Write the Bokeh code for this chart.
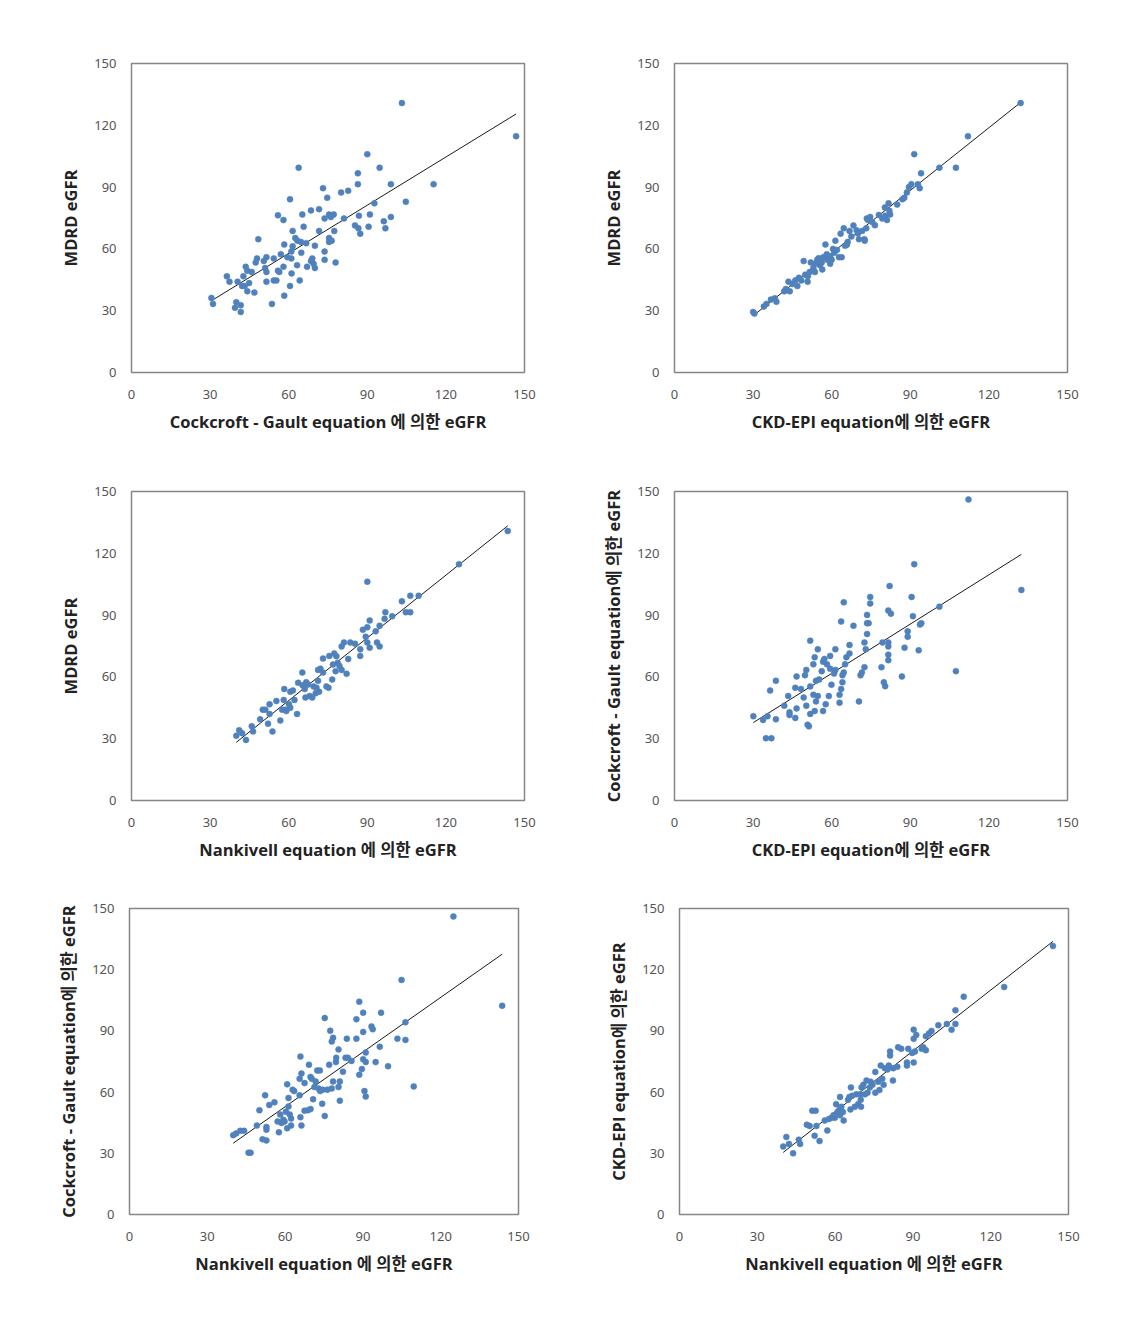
import numpy as np
from bokeh.plotting import figure
from bokeh.layouts import column, row
from bokeh.models import Range1d, FixedTicker
from bokeh.embed import file_html
from bokeh.resources import INLINE

TICKS = [0, 30, 60, 90, 120, 150]

# Panel 1: Cockcroft-Gault (x) vs MDRD (y)
p1_x = [30.5,31.1,103.2,146.8,90.0,63.8,86.4,94.7,86.4,99.0,
        115.3,73.1,80.0,82.7,74.7,60.5,92.7,104.7,71.6,68.5,
        65.2,55.9,58.0,75.4,77.2,76.1,73.7,81.1,86.8,91.0,
        96.3,99.0,85.3,90.5,96.9,86.6,87.3,65.7,61.5,71.6,
        77.4,48.4,62.5,63.3,64.7,66.7,58.3,61.5,70.0,75.4,
        76.4,75.4,61.0,64.8,73.7,57.0,59.5,61.0,51.5,47.9,
        47.4,50.5,54.3,69.0,68.5,69.5,73.7,77.9,63.2,67.0,
        70.0,58.0,51.0,43.6,44.2,45.9,51.5,55.9,56.4,61.1,
        42.7,36.4,37.4,40.5,44.9,42.2,43.2,51.5,54.3,55.3,
        64.2,60.5,44.2,46.9,58.3,53.6,40.0,39.5,41.7,41.7]
p1_y = [36.2,33.3,130.8,114.7,106.0,99.4,96.7,99.4,91.4,91.4,
        91.4,89.5,87.4,88.2,84.8,84.1,82.1,82.9,79.3,78.7,
        76.7,76.3,74.0,76.7,76.7,75.5,74.8,74.8,76.1,76.7,
        73.4,75.5,71.4,70.8,70.0,70.0,67.4,70.8,68.7,68.7,
        68.7,64.7,65.3,64.0,63.4,62.8,62.1,61.3,61.5,65.3,
        64.0,63.4,58.7,58.1,58.7,57.4,56.0,55.4,56.0,55.4,
        53.4,54.1,55.4,55.4,54.1,52.8,54.7,53.4,52.1,51.3,
        50.7,51.3,50.7,51.3,49.4,48.8,48.8,49.4,48.8,48.1,
        46.7,46.7,44.1,44.1,43.4,42.0,42.0,44.1,44.7,44.7,
        44.7,42.0,39.4,38.8,37.3,33.3,34.1,31.4,32.7,29.4]

# Panel 2: CKD-EPI (x) vs MDRD (y)
p2_x = [30.0,30.5,34.1,35.1,36.8,38.3,38.9,41.9,44.0,43.5,
        46.1,46.9,48.4,50.8,49.9,50.9,51.6,52.0,49.3,53.0,
        53.6,54.5,55.5,56.8,56.4,57.6,58.3,59.4,60.0,61.0,
        62.8,63.8,61.4,63.4,64.6,65.1,66.1,66.8,68.3,70.4,
        71.6,72.5,73.2,72.6,73.4,74.7,73.9,79.3,80.4,81.7,
        82.3,81.1,80.3,87.0,87.7,88.7,90.4,93.6,92.9,91.5,
        94.1,101.1,107.4,112.0,132.1,53.6,58.1,56.2,65.8,59.4,
        45.0,47.5,55.0,60.5,67.5,69.5,75.5,78.0,82.0,85.0,
        89.5,42.5,62.0,70.0,76.5]
p2_y = [29.4,28.6,32.0,33.3,35.4,36.0,34.3,39.4,39.4,44.1,
        44.7,42.0,44.7,44.1,47.5,46.7,48.8,53.4,54.1,50.7,
        52.8,54.7,52.1,56.0,50.0,62.1,54.7,52.8,54.7,58.1,
        56.0,56.0,64.0,67.4,70.0,61.5,63.4,68.7,71.4,64.7,
        68.7,64.7,70.0,64.0,74.8,75.5,74.0,74.8,76.1,82.1,
        76.7,74.0,80.1,84.1,84.8,87.4,91.4,89.5,91.4,106.0,
        96.7,99.4,99.4,114.7,130.8,48.8,57.4,53.4,62.0,56.3,
        43.0,46.0,55.5,60.0,66.0,69.0,73.0,76.5,78.5,81.5,
        90.0,40.5,59.5,67.5,71.5]

# Panel 3: Nankivell (x) vs MDRD (y)
p3_x = [40.0,41.1,42.2,43.7,45.9,46.4,49.1,50.1,51.1,52.1,
        52.7,52.7,53.8,56.8,57.5,58.1,58.3,58.7,59.1,60.1,
        60.6,61.6,60.6,62.2,63.2,65.2,65.3,66.1,66.7,66.4,
        68.0,69.0,69.5,70.3,71.2,71.6,71.2,72.1,73.1,73.1,
        74.4,75.2,75.5,76.6,77.4,77.9,78.7,79.4,80.2,80.2,
        81.1,82.1,82.7,83.5,85.3,87.3,87.3,88.3,89.4,90.0,
        90.0,90.0,90.9,90.9,93.2,93.7,94.7,94.7,96.9,96.6,
        99.5,103.2,104.7,106.4,106.4,109.6,125.0,143.6,55.3,63.6,
        67.4,70.6,76.9,78.2]
p3_y = [31.4,34.1,32.7,29.4,36.0,33.5,39.4,44.1,44.1,37.3,
        46.7,42.0,33.5,38.8,44.1,48.8,54.1,44.1,43.4,46.7,
        52.8,53.4,45.0,48.8,42.0,62.1,56.0,54.1,57.4,50.0,
        50.7,50.0,55.4,52.1,58.1,52.8,63.4,64.0,68.9,62.1,
        55.4,54.7,70.2,58.7,71.4,62.8,66.8,65.3,63.4,74.8,
        76.7,61.5,68.7,76.7,76.1,70.2,73.4,82.9,79.5,106.2,
        84.1,76.7,87.4,74.2,82.1,76.7,74.8,84.8,91.4,88.2,
        89.5,96.7,91.4,99.4,91.4,99.4,114.7,130.8,48.3,57.1,
        56.3,54.7,66.0,70.0]

# Panel 4: CKD-EPI (x) vs Cockcroft-Gault (y)
p4_x = [30.1,33.8,35.5,34.9,37.0,36.5,38.7,38.7,41.9,43.4,
        43.9,43.9,46.1,46.1,46.6,46.6,48.3,49.3,49.8,50.3,
        50.3,50.8,51.3,51.8,51.8,51.8,53.0,53.0,53.5,53.5,
        54.0,54.0,54.7,54.7,55.2,56.2,56.7,56.7,57.2,57.7,
        58.2,58.9,59.4,59.4,59.9,60.9,61.4,61.4,63.0,63.0,
        63.6,63.6,64.1,64.1,64.6,64.6,65.1,65.6,66.8,66.8,
        68.3,70.4,71.0,71.5,72.5,72.5,73.0,73.5,73.5,74.1,
        73.5,74.7,74.7,79.0,79.4,79.9,80.4,81.6,81.6,81.6,
        81.6,81.6,82.6,82.1,86.8,87.8,89.0,89.0,90.5,91.0,
        91.5,93.2,93.7,94.2,101.1,107.4,112.2,132.4]
p4_y = [40.9,39.1,40.9,30.2,30.2,53.4,58.1,39.4,46.0,50.7,
        42.8,41.5,40.1,54.7,60.2,44.7,54.1,50.0,60.8,63.4,
        46.0,36.8,36.0,77.6,55.4,42.0,66.1,51.3,69.5,43.4,
        58.1,48.1,73.4,50.7,58.7,62.8,43.4,67.4,68.7,46.7,
        66.1,50.7,70.2,64.0,56.2,61.6,73.4,63.4,47.5,51.3,
        86.9,54.1,57.4,60.8,96.2,62.1,66.1,69.5,71.4,75.5,
        84.8,48.1,60.8,62.1,64.7,76.7,73.4,80.8,86.1,86.1,
        90.1,95.6,98.8,64.7,76.7,57.4,55.5,68.1,70.8,74.8,
        76.7,92.2,90.7,104.1,60.2,74.2,79.5,82.1,98.8,89.5,
        114.7,72.9,85.4,86.1,94.1,62.8,146.1,102.2]

# Panel 5: Nankivell (x) vs Cockcroft-Gault (y)
p5_x = [40.0,41.1,42.7,44.2,45.9,46.7,49.1,50.1,51.3,52.8,
        52.3,52.8,52.8,53.9,55.9,57.6,57.1,58.1,58.6,59.3,
        59.8,60.3,60.8,60.8,61.3,61.3,61.8,62.3,62.3,62.9,
        63.5,65.6,65.6,65.9,65.9,66.3,66.3,67.5,67.5,68.8,
        69.2,69.8,69.8,70.3,70.8,71.3,71.8,72.4,72.9,73.4,
        73.5,74.3,74.5,75.3,75.3,76.3,77.0,77.4,78.0,78.0,
        78.5,78.5,79.6,79.7,80.6,80.6,81.1,81.1,82.3,83.3,
        83.8,84.2,85.6,87.5,87.5,88.6,88.6,89.6,90.1,90.1,
        90.1,90.6,91.1,91.1,91.1,93.3,93.8,94.9,96.5,97.0,
        99.7,103.3,104.9,106.4,106.4,109.6,124.9,143.7]
p5_y = [38.9,39.7,41.0,41.0,30.3,30.3,43.6,51.1,36.9,36.3,
        58.4,42.9,41.6,53.7,55.0,40.3,45.6,49.0,44.9,46.4,
        45.6,50.4,63.8,42.3,57.1,53.0,49.0,43.6,47.0,61.2,
        60.5,58.4,66.5,47.7,77.4,43.6,69.1,64.4,50.9,51.1,
        73.4,67.4,51.7,66.5,56.5,62.5,65.2,70.6,61.8,70.6,
        60.5,54.3,61.2,48.3,96.3,61.2,73.4,90.1,84.8,61.8,
        86.6,65.2,74.7,76.8,62.5,80.9,65.2,55.8,70.0,76.8,
        86.2,76.8,75.3,86.2,95.7,104.3,68.5,71.3,98.9,89.5,
        76.1,60.5,57.8,79.4,74.7,92.2,90.8,74.7,82.2,98.9,
        72.7,86.2,115.0,94.2,85.6,62.8,146.1,102.3]

# Panel 6: Nankivell (x) vs CKD-EPI (y)
p6_x = [40.0,41.2,42.2,43.8,46.0,46.5,49.1,50.2,51.2,52.5,
        52.1,52.8,54.0,56.0,57.0,57.6,58.7,59.4,59.9,60.4,
        60.9,61.7,61.9,61.9,62.4,63.0,63.3,65.0,65.5,65.9,
        66.1,66.6,67.6,68.2,68.9,69.7,69.9,70.0,70.2,70.9,
        71.5,72.1,72.5,73.4,73.7,74.4,75.5,75.5,76.6,77.1,
        77.6,78.2,78.7,79.2,80.2,80.7,81.2,81.2,82.3,82.4,
        84.0,84.3,85.5,87.7,87.7,88.2,89.7,90.3,90.3,90.3,
        90.8,91.3,93.4,94.0,95.0,95.0,96.2,97.2,99.8,103.1,
        104.9,106.4,106.4,109.6,125.2,144.0]
p6_y = [33.3,38.0,34.6,30.0,36.7,34.6,44.0,43.4,50.9,50.9,
        38.6,43.4,36.0,46.1,41.2,46.8,47.4,48.7,47.4,54.1,
        50.2,51.5,48.7,57.6,52.8,50.2,46.1,56.2,57.6,51.5,
        62.3,58.2,52.8,58.9,54.1,58.9,56.2,52.8,62.3,63.6,
        58.9,65.7,59.7,62.3,65.1,63.6,69.9,59.7,65.1,61.0,
        73.0,66.5,63.6,71.7,71.1,73.0,79.9,77.9,65.7,71.7,
        72.4,82.0,81.2,74.5,73.0,81.2,79.2,90.6,86.1,74.5,
        79.9,88.0,81.2,82.0,80.5,87.4,88.7,90.0,92.8,93.4,
        90.6,93.4,100.1,106.8,111.5,131.6]

x_titles = ["Cockcroft - Gault equation 에 의한 eGFR", "CKD-EPI equation에 의한 eGFR",
            "Nankivell equation 에 의한 eGFR", "CKD-EPI equation에 의한 eGFR",
            "Nankivell equation 에 의한 eGFR", "Nankivell equation 에 의한 eGFR"]
y_titles = ["MDRD eGFR", "MDRD eGFR", "MDRD eGFR",
            "Cockcroft - Gault equation에 의한 eGFR",
            "Cockcroft - Gault equation에 의한 eGFR",
            "CKD-EPI equation에 의한 eGFR"]

POINT = "#4F81BD"
TICK_FONT = "Noto Sans"
TITLE_FONT = "'Open Sans', 'Noto Sans CJK KR'"


def panel(xs, ys, xt, yt, bl, br, bt, bb, fw, fh):
    p = figure(width=bl + fw + br, height=bt + fh + bb,
               x_range=Range1d(0, 150), y_range=Range1d(0, 150),
               output_backend="svg", toolbar_location=None,
               min_border_left=bl, min_border_right=br,
               min_border_top=bt, min_border_bottom=bb)
    p.grid.visible = False
    p.outline_line_color = "#868686"
    p.outline_line_width = 1.5
    p.background_fill_color = "white"
    p.border_fill_color = "white"
    for ax in (p.xaxis[0], p.yaxis[0]):
        ax.ticker = FixedTicker(ticks=TICKS)
        ax.axis_line_color = None
        ax.major_tick_line_color = None
        ax.minor_tick_line_color = None
        ax.major_label_text_font = TICK_FONT
        ax.major_label_text_font_size = "13px"
        ax.major_label_text_color = "#555555"
        ax.axis_label_text_font = TITLE_FONT
        ax.axis_label_text_font_style = "bold"
        ax.axis_label_text_font_size = "16.5px"
        ax.axis_label_text_color = "#222222"
    p.xaxis.axis_label = xt
    p.yaxis.axis_label = yt
    p.xaxis.major_label_standoff = 11
    p.xaxis.axis_label_standoff = 8
    p.yaxis.major_label_standoff = 9
    p.yaxis.axis_label_standoff = 9
    # linear trend line from least squares fit
    k, b = np.polyfit(xs, ys, 1)
    lx = np.array([min(xs), max(xs)])
    p.line(lx, k * lx + b, line_color="#1a1a1a", line_width=1)
    p.scatter(xs, ys, size=6, fill_color=POINT, line_color=POINT, line_width=0.5)
    return p


f1 = panel(p1_x, p1_y, x_titles[0], y_titles[0], 131, 20, 63, 75, 393, 309)
f2 = panel(p2_x, p2_y, x_titles[1], y_titles[1], 130, 20, 63, 75, 393, 309)
f3 = panel(p3_x, p3_y, x_titles[2], y_titles[2], 131, 20, 44, 75, 393, 309)
f4 = panel(p4_x, p4_y, x_titles[3], y_titles[3], 130, 20, 44, 75, 393, 309)
f5 = panel(p5_x, p5_y, x_titles[4], y_titles[4], 129, 20, 33, 75, 389, 306)
f6 = panel(p6_x, p6_y, x_titles[5], y_titles[5], 141, 20, 33, 75, 389, 306)

layout = column(row(f1, f2), row(f3, f4), row(f5, f6))
open("out.html", "w").write(file_html(layout, INLINE))
